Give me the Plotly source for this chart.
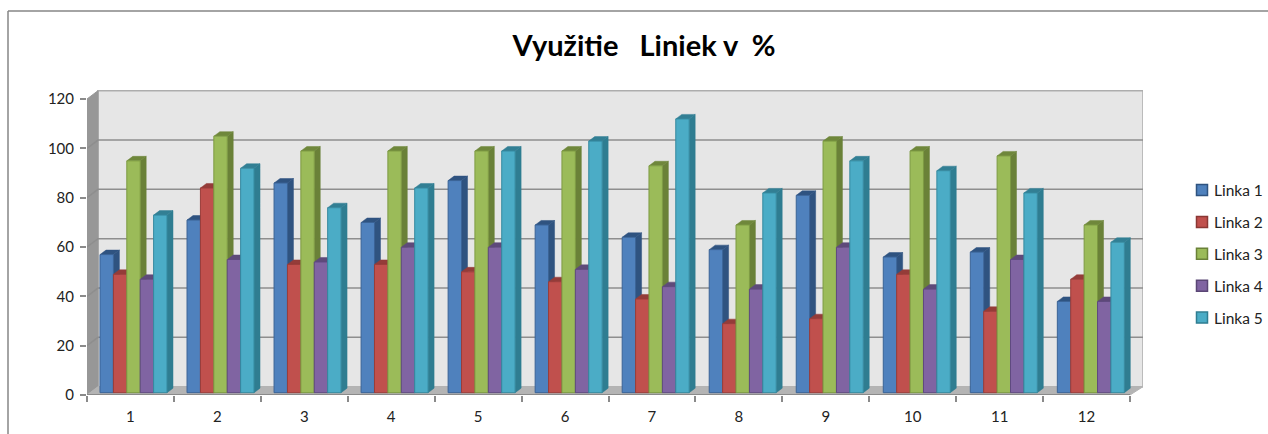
import plotly.graph_objects as go

categories = [1, 2, 3, 4, 5, 6, 7, 8, 9, 10, 11, 12]
linka_1 = [56, 70, 85, 69, 86, 68, 63, 58, 80, 55, 57, 37]
linka_2 = [48, 83, 52, 52, 49, 45, 38, 28, 30, 48, 33, 46]
linka_3 = [94, 104, 98, 98, 98, 98, 92, 68, 102, 98, 96, 68]
linka_4 = [46, 54, 53, 59, 59, 50, 43, 42, 59, 42, 54, 37]
linka_5 = [72, 91, 75, 83, 98, 102, 111, 81, 94, 90, 81, 61]
series_names = ["Linka 1", "Linka 2", "Linka 3", "Linka 4", "Linka 5"]
series_values = [linka_1, linka_2, linka_3, linka_4, linka_5]
y_ticks = [0, 20, 40, 60, 80, 100, 120]

front = ["#4F81BD", "#C0504D", "#9BBB59", "#8064A2", "#4BACC6"]
edge = ["#3A6396", "#9A3D3A", "#7D9A42", "#5F4A7F", "#35899F"]
side = ["#2F5380", "#8A3734", "#6A8138", "#5A4675", "#2F7D91"]
top_c = ["#2F5380", "#943C39", "#6F873B", "#5E4A7A", "#327F94"]
FONT = "Lato, 'Open Sans', sans-serif"

W, H = 1268, 434
PL, PR, PT, PB = 87, 1143, 89, 395      # plot box in page pixels
PITCH = (1130 - 87) / 12                # px per category on the axis
YS = 296 / 120                          # px per y unit
xr = [0.5, 0.5 + (PR - PL) / PITCH]
yr = [0, (PB - PT) / YS]

# wall depth, in axis units
dx = 11 / PITCH
dy = 8.3 / YS
x_end = 12.5
x_back = xr[1]

# bar plane: slightly different pitch and shifted into the floor
BPITCH = 87.03
b_x0 = 1 - (133.5 - PL) / BPITCH
b_xr = [b_x0, b_x0 + (PR - PL) / BPITCH]
b_y0 = -2.3 / YS
b_yr = [b_y0, b_y0 + (PB - PT) / YS]
GROUP = 67 / BPITCH
bw = GROUP / 5
ddx = 6 / BPITCH
ddy = 4.5 / YS

fig = go.Figure()


def poly(xs, ys, fill, line=None, axes=("x", "y"), width=1):
    fig.add_trace(go.Scatter(
        x=xs, y=ys, mode="lines", fill="toself", fillcolor=fill,
        line=dict(color=line or fill, width=width), showlegend=False,
        hoverinfo="skip", xaxis=axes[0], yaxis=axes[1]))


# walls and floor
poly([0.5 + dx, 0.5 + dx, x_back, x_back, 0.5 + dx], [dy, 120 + dy, 120 + dy, dy, dy], "#E6E6E6", "#ADADAD", width=1.5)
poly([0.5, 0.5 + dx, 0.5 + dx, 0.5, 0.5], [0, dy, 120 + dy, 120, 0], "#979797", "#979797")
poly([0.5, 0.5 + dx, x_back, x_end, 0.5], [0, dy, dy, 0, 0], "#B4B4B4", "#B4B4B4")

# gridlines
for t in y_ticks[1:-1]:
    fig.add_trace(go.Scatter(
        x=[0.5, 0.5 + dx, x_back], y=[t, t + dy, t + dy], mode="lines",
        line=dict(color="#8E8E8E", width=1.5), showlegend=False, hoverinfo="skip"))
# front axis line
fig.add_trace(go.Scatter(
    x=[0.5, x_end], y=[0, 0], mode="lines", cliponaxis=False,
    line=dict(color="#8A8A8A", width=2), showlegend=False, hoverinfo="skip"))

# side and top faces, computed from the series values
for i, vals in enumerate(series_values):
    sx, sy, tx, ty = [], [], [], []
    for c, v in zip(categories, vals):
        l = c - GROUP / 2 + i * bw
        r = l + bw
        sx += [r, r + ddx, r + ddx, r, r, None]
        sy += [0, ddy, v + ddy, v, 0, None]
        tx += [l, l + ddx, r + ddx, r, l, None]
        ty += [v, v + ddy, v + ddy, v, v, None]
    poly(sx, sy, side[i], axes=("x2", "y2"), width=0.5)
    poly(tx, ty, top_c[i], axes=("x2", "y2"), width=0.5)

# front faces
for i, (name, vals) in enumerate(zip(series_names, series_values)):
    fig.add_trace(go.Bar(
        x=categories, y=vals, name=name, showlegend=False,
        marker=dict(color=front[i], line=dict(color=edge[i], width=1)),
        xaxis="x3", yaxis="y3", hoverinfo="skip"))


def px_x(p):
    return (p - PL) / (PR - PL)


def px_y(p):
    return (PB - p) / (PB - PT)


border = dict(color="#868686", width=1.5)
hidden = dict(visible=False, fixedrange=True)

shapes = [
    dict(type="line", xref="paper", yref="paper", x0=px_x(8), x1=px_x(W), y0=px_y(11), y1=px_y(11), line=border),
    dict(type="line", xref="paper", yref="paper", x0=px_x(8), x1=px_x(8), y0=px_y(11), y1=px_y(H), line=border),
]
annotations = []
LEG_Y0, LEG_DY = 190, 31.9
for i, name in enumerate(series_names):
    cy = LEG_Y0 + i * LEG_DY
    shapes.append(dict(type="rect", xref="paper", yref="paper",
                       x0=px_x(1196.5), x1=px_x(1207.5), y0=px_y(cy - 5.5), y1=px_y(cy + 5.5),
                       fillcolor=front[i], line=dict(color=side[i], width=1.5)))
    annotations.append(dict(text=name, xref="paper", yref="paper", x=px_x(1212), y=px_y(cy),
                            xanchor="left", yanchor="middle", showarrow=False,
                            font=dict(family=FONT, size=15.5, color="#222222")))

fig.update_layout(
    width=W, height=H,
    margin=dict(l=PL, r=W - PR, t=PT, b=H - PB, pad=0, autoexpand=False),
    paper_bgcolor="white", plot_bgcolor="white",
    font=dict(family=FONT, size=15, color="#222222"),
    title=dict(text="Využitie\u00a0\u00a0\u00a0Liniek\u00a0v\u00a0\u00a0%",
               x=644 / W, y=1 - 46 / H, xref="container", yref="container",
               xanchor="center", yanchor="middle",
               font=dict(family=FONT, size=29, color="#000000", weight="bold")),
    barmode="group", bargap=1 - GROUP, bargroupgap=0,
    showlegend=False,
    xaxis=dict(range=xr, tickvals=categories, ticktext=[str(c) for c in categories],
               ticks="", showgrid=False, zeroline=False, showline=False, fixedrange=True,
               ticklabelstandoff=11,
               minor=dict(tickvals=[c - 0.5 for c in categories] + [12.5], ticks="outside",
                          ticklen=6, tickwidth=1.5, tickcolor="#8A8A8A", showgrid=False)),
    yaxis=dict(range=yr, tickvals=y_ticks, ticks="outside", ticklen=6, tickwidth=1.5,
               tickcolor="#8A8A8A", showgrid=False, zeroline=False, showline=False,
               fixedrange=True, ticklabelstandoff=3),
    xaxis2=dict(range=b_xr, overlaying="x", **hidden),
    yaxis2=dict(range=b_yr, overlaying="y", **hidden),
    xaxis3=dict(range=b_xr, overlaying="x", **hidden),
    yaxis3=dict(range=b_yr, overlaying="y", **hidden),
    shapes=shapes,
    annotations=annotations,
)

fig.write_html("out.html", config={"displayModeBar": False},
               post_script="document.body.style.margin='0';document.body.style.overflow='hidden';")
